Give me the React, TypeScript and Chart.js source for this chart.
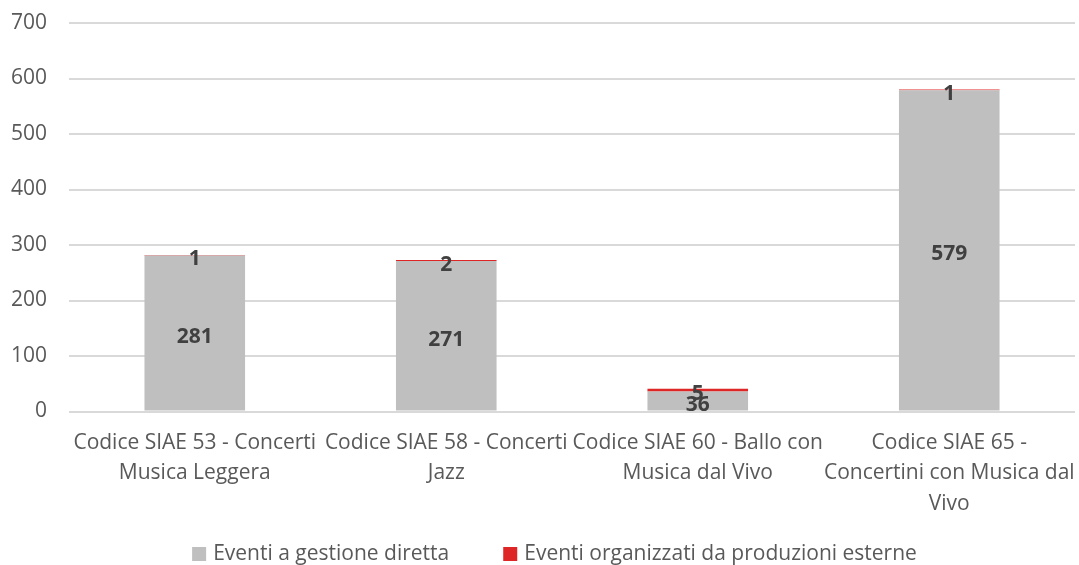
import React, { useEffect, useRef } from "react";
import { Chart, registerables } from "chart.js";

Chart.register(...registerables);

const categories: string[][] = [
  ["Codice SIAE 53 - Concerti", "Musica Leggera"],
  ["Codice SIAE 58 - Concerti", "Jazz"],
  ["Codice SIAE 60 - Ballo con", "Musica dal Vivo"],
  ["Codice SIAE 65 -", "Concertini con Musica dal", "Vivo"],
];
const gestioneDiretta: number[] = [281, 271, 36, 579];
const produzioniEsterne: number[] = [1, 2, 5, 1];
const seriesNames: string[] = ["Eventi a gestione diretta", "Eventi organizzati da produzioni esterne"];
const seriesColors: string[] = ["#BFBFBF", "#DE2626"];

const FONT = "'Open Sans', Lato, sans-serif";

const labelPlugin = {
  id: "segLabels",
  afterDatasetsDraw(chart: any) {
    const ctx = chart.ctx;
    ctx.save();
    ctx.font = `bold 21px ${FONT}`;
    ctx.fillStyle = "#404040";
    ctx.textAlign = "center";
    ctx.textBaseline = "middle";
    chart.data.datasets.forEach((ds: any, di: number) => {
      const meta = chart.getDatasetMeta(di);
      meta.data.forEach((el: any, i: number) => {
        const p = el.getProps(["x", "y", "base"], true);
        const cy = (p.y + p.base) / 2;
        ctx.fillText(String(ds.data[i]), p.x, cy + 4);
      });
    });
    ctx.restore();
  },
};

const legendPlugin = {
  id: "customLegend",
  afterDraw(chart: any) {
    const ctx = chart.ctx;
    ctx.save();
    ctx.font = `21px ${FONT}`;
    ctx.textBaseline = "middle";
    ctx.textAlign = "left";
    const box = 14;
    const gapBox = 7;
    const gapItem = 54;
    const items = chart.data.datasets.map((ds: any) => ({
      text: ds.label as string,
      color: ds.backgroundColor as string,
      w: ctx.measureText(ds.label).width,
    }));
    const total =
      items.reduce((s: number, it: any) => s + box + gapBox + it.w, 0) + gapItem * (items.length - 1);
    let x = chart.width / 2 + 15 - total / 2;
    const cy = 554;
    items.forEach((it: any) => {
      ctx.fillStyle = it.color;
      ctx.fillRect(x, cy - box / 2, box, box);
      x += box + gapBox;
      ctx.fillStyle = "#595959";
      ctx.fillText(it.text, x, cy);
      x += it.w + gapItem;
    });
    ctx.restore();
  },
};

export default function App() {
  const ref = useRef<HTMLCanvasElement | null>(null);
  useEffect(() => {
    if (!ref.current) return;
    const chart = new Chart(ref.current, {
      type: "bar",
      data: {
        labels: categories,
        datasets: [
          {
            label: seriesNames[0],
            data: gestioneDiretta,
            backgroundColor: seriesColors[0],
            borderWidth: 0,
          },
          {
            label: seriesNames[1],
            data: produzioniEsterne,
            backgroundColor: seriesColors[1],
            borderWidth: 0,
          },
        ],
      },
      options: {
        animation: false,
        responsive: true,
        maintainAspectRatio: false,
        layout: { padding: { left: 11, right: 4, top: 23, bottom: 30 } },
        datasets: { bar: { barPercentage: 0.4, categoryPercentage: 1 } },
        scales: {
          x: {
            stacked: true,
            grid: { display: false, drawTicks: false },
            border: { display: false },
            ticks: {
              color: "#595959",
              font: { family: FONT, size: 21, lineHeight: 30.5 / 21 },
              maxRotation: 0,
              autoSkip: false,
              padding: 16,
            },
            afterFit: (scale: any) => {
              scale.paddingLeft = 0;
              scale.paddingRight = 0;
            },
          },
          y: {
            stacked: true,
            min: 0,
            max: 700,
            grid: { color: "#D9D9D9", lineWidth: 2, drawTicks: false },
            border: { display: false },
            ticks: {
              stepSize: 100,
              color: "#595959",
              font: { family: FONT, size: 21 },
              padding: 22,
            },
            afterFit: (scale: any) => {
              scale.paddingTop = 0;
              scale.paddingBottom = 0;
              scale.width = scale.width - 22;
            },
          },
        },
        plugins: {
          legend: { display: false },
          tooltip: { enabled: false },
        },
      },
      plugins: [labelPlugin, legendPlugin],
    });
    return () => chart.destroy();
  }, []);
  return (
    <div style={{ position: "fixed", left: 0, top: 0, width: 1079, height: 565, background: "#fff" }}>
      <canvas ref={ref} />
    </div>
  );
}
